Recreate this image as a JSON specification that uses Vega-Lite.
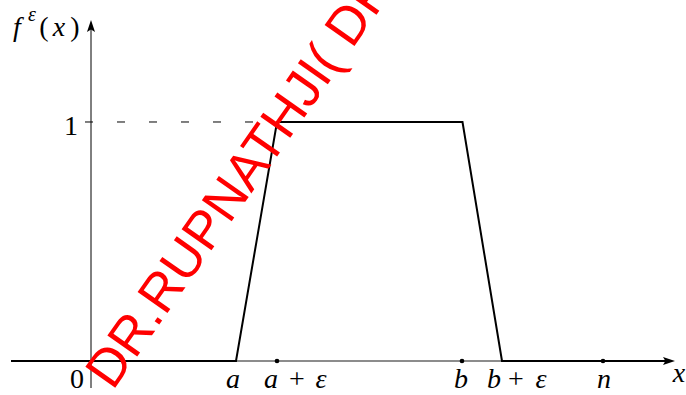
{
  "$schema": "https://vega.github.io/schema/vega-lite/v6.json",
  "width": 686,
  "height": 395,
  "autosize": {"type": "none"},
  "padding": 0,
  "background": "white",
  "config": {"view": {"stroke": null}},
  "datasets": {
    "hline": [{"x": -80, "x2": 578, "y": 0}],
    "vline": [{"x": 0, "y": -0.113, "y2": 1.40}],
    "dash": [{"x": -6, "x2": 186, "y": 1}],
    "fn": [
      {"i": 0, "x": -80, "y": 0},
      {"i": 1, "x": 145, "y": 0},
      {"i": 2, "x": 186, "y": 1},
      {"i": 3, "x": 371.5, "y": 1},
      {"i": 4, "x": 411, "y": 0},
      {"i": 5, "x": 578, "y": 0}
    ],
    "dots": [{"x": 186, "y": 0}, {"x": 371, "y": 0}, {"x": 512, "y": 0}],
    "arrowRight": [{"x": 578, "y": 0}],
    "arrowUp": [{"x": 0, "y": 1.4017}],
    "italicLabels": [
      {"lab": "a", "x": 142, "y": -0.1130},
      {"lab": "a", "x": 180, "y": -0.1130},
      {"lab": "ε", "x": 230, "y": -0.1130},
      {"lab": "b", "x": 370, "y": -0.1130},
      {"lab": "b", "x": 403, "y": -0.1130},
      {"lab": "ε", "x": 450, "y": -0.1130},
      {"lab": "n", "x": 513, "y": -0.1130},
      {"lab": "x", "x": 588, "y": -0.0879},
      {"lab": "f", "x": -74, "y": 1.3598},
      {"lab": "x", "x": -32, "y": 1.3598}
    ],
    "uprightLabels": [
      {"lab": "0", "x": -14, "y": -0.1130},
      {"lab": "+", "x": 206, "y": -0.1130},
      {"lab": "+", "x": 425, "y": -0.1130},
      {"lab": "1", "x": -20, "y": 0.9456},
      {"lab": "(", "x": -47, "y": 1.3598},
      {"lab": ")", "x": -16, "y": 1.3598}
    ],
    "superscript": [{"lab": "ε", "x": -59, "y": 1.4226}],
    "watermark": [{"lab": "DR.RUPNATHJI( DR.RUPAK NATH )", "x": 21.7, "y": -0.1268}]
  },
  "layer": [
    {
      "data": {"name": "hline"},
      "mark": {"type": "rule", "color": "#666666", "strokeWidth": 1.3},
      "encoding": {
        "x": {"field": "x", "type": "quantitative", "scale": {"domain": [-91, 595], "nice": false, "zero": false}, "axis": null},
        "x2": {"field": "x2"},
        "y": {"field": "y", "type": "quantitative", "scale": {"domain": [-0.14226, 1.51046], "nice": false, "zero": false}, "axis": null}
      }
    },
    {
      "data": {"name": "vline"},
      "mark": {"type": "rule", "color": "black", "strokeWidth": 1},
      "encoding": {
        "x": {"field": "x", "type": "quantitative"},
        "y": {"field": "y", "type": "quantitative"},
        "y2": {"field": "y2"}
      }
    },
    {
      "data": {"name": "dash"},
      "mark": {"type": "rule", "color": "black", "strokeWidth": 1, "strokeDash": [8, 24]},
      "encoding": {
        "x": {"field": "x", "type": "quantitative"},
        "x2": {"field": "x2"},
        "y": {"field": "y", "type": "quantitative"}
      }
    },
    {
      "data": {"name": "fn"},
      "mark": {"type": "line", "color": "black", "strokeWidth": 2, "strokeJoin": "miter"},
      "encoding": {
        "x": {"field": "x", "type": "quantitative"},
        "y": {"field": "y", "type": "quantitative"},
        "order": {"field": "i", "type": "quantitative"}
      }
    },
    {
      "data": {"name": "dots"},
      "mark": {"type": "point", "filled": true, "color": "black", "size": 22, "opacity": 1},
      "encoding": {
        "x": {"field": "x", "type": "quantitative"},
        "y": {"field": "y", "type": "quantitative"}
      }
    },
    {
      "data": {"name": "arrowRight"},
      "mark": {"type": "point", "filled": true, "color": "black", "opacity": 1, "size": 144, "shape": "M1,0L-1,-0.67L-0.6,0L-1,0.67Z"},
      "encoding": {
        "x": {"field": "x", "type": "quantitative"},
        "y": {"field": "y", "type": "quantitative"}
      }
    },
    {
      "data": {"name": "arrowUp"},
      "mark": {"type": "point", "filled": true, "color": "black", "opacity": 1, "size": 144, "shape": "M0,-1L-0.67,1L0,0.6L0.67,1Z"},
      "encoding": {
        "x": {"field": "x", "type": "quantitative"},
        "y": {"field": "y", "type": "quantitative"}
      }
    },
    {
      "data": {"name": "italicLabels"},
      "mark": {"type": "text", "font": "Liberation Serif", "fontStyle": "italic", "fontSize": 28, "align": "center", "baseline": "alphabetic", "color": "black"},
      "encoding": {
        "x": {"field": "x", "type": "quantitative"},
        "y": {"field": "y", "type": "quantitative"},
        "text": {"field": "lab"}
      }
    },
    {
      "data": {"name": "uprightLabels"},
      "mark": {"type": "text", "font": "Liberation Serif", "fontSize": 28, "align": "center", "baseline": "alphabetic", "color": "black"},
      "encoding": {
        "x": {"field": "x", "type": "quantitative"},
        "y": {"field": "y", "type": "quantitative"},
        "text": {"field": "lab"}
      }
    },
    {
      "data": {"name": "superscript"},
      "mark": {"type": "text", "font": "Liberation Serif", "fontStyle": "italic", "fontSize": 20, "align": "center", "baseline": "alphabetic", "color": "black"},
      "encoding": {
        "x": {"field": "x", "type": "quantitative"},
        "y": {"field": "y", "type": "quantitative"},
        "text": {"field": "lab"}
      }
    },
    {
      "data": {"name": "watermark"},
      "mark": {"type": "text", "font": "Liberation Sans", "fontSize": 53, "align": "left", "baseline": "alphabetic", "angle": 305, "color": "#ff0000"},
      "encoding": {
        "x": {"field": "x", "type": "quantitative"},
        "y": {"field": "y", "type": "quantitative"},
        "text": {"field": "lab"}
      }
    }
  ]
}
